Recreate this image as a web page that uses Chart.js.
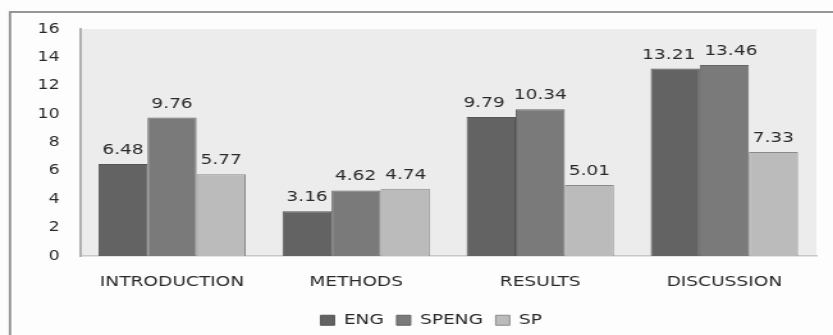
<!DOCTYPE html>
<html>
<head>
<meta charset="utf-8">
<script src="https://cdn.jsdelivr.net/npm/chart.js@4/dist/chart.umd.min.js"></script>
<style>
  html, body { margin: 0; padding: 0; background: #ffffff; overflow: hidden; }
  #wrap { width: 833px; height: 335px; overflow: hidden; }
  /* the chart is laid out on a narrower canvas and widened to the page */
  #c { display: block; transform: scaleX(1.2796); transform-origin: 0 0; }
</style>
</head>
<body>
<div id="wrap"><canvas id="c" width="651" height="335" style="width:651px;height:335px"></canvas></div>
<script>
const categories = ['INTRODUCTION', 'METHODS', 'RESULTS', 'DISCUSSION'];
const seriesNames = ['ENG', 'SPENG', 'SP'];
const engValues = [6.48, 3.16, 9.79, 13.21];
const spengValues = [9.76, 4.62, 10.34, 13.46];
const spValues = [5.77, 4.74, 5.01, 7.33];
const yTickValues = [0, 2, 4, 6, 8, 10, 12, 14, 16];

const FONT = 'DejaVu Sans';
const TEXT = '#2a2a2a';
const LEGEND_SHIFT = 18;

// white page, framed box and grey plotting area
const backdrop = {
  id: 'backdrop',
  afterLayout(chart) {
    // centre the legend under the plotting area rather than the whole canvas
    if (chart.legend) {
      chart.legend.left += LEGEND_SHIFT;
      chart.legend.right += LEGEND_SHIFT;
    }
  },
  beforeDraw(chart) {
    const { ctx, chartArea: a, width, height } = chart;
    ctx.save();
    ctx.fillStyle = '#fdfdfd';
    ctx.fillRect(0, 0, width, height);
    ctx.strokeStyle = '#8c8c8c';
    ctx.lineWidth = 1.8;
    ctx.strokeRect(7.8, 12, width + 20, height + 20);
    ctx.fillStyle = '#ececec';
    ctx.fillRect(a.left, a.top, a.right - a.left, a.bottom - a.top);
    ctx.restore();
  }
};

// value written above each bar; neighbouring labels that would collide are pushed apart
const valueLabels = {
  id: 'valueLabels',
  afterDatasetsDraw(chart) {
    const { ctx } = chart;
    const gap = 7, lift = 10, textH = 14;
    ctx.save();
    ctx.font = '14.5px "' + FONT + '"';
    ctx.fillStyle = TEXT;
    ctx.textAlign = 'center';
    ctx.textBaseline = 'alphabetic';
    const nSeries = chart.data.datasets.length;
    chart.data.labels.forEach((_, j) => {
      const items = [];
      for (let i = 0; i < nSeries; i++) {
        const bar = chart.getDatasetMeta(i).data[j];
        const text = chart.data.datasets[i].data[j].toFixed(2);
        items.push({ text, x: bar.x, y: bar.y - lift, w: ctx.measureText(text).width });
      }
      for (let k = 1; k < items.length; k++) {
        const a = items[k - 1], b = items[k];
        if (Math.abs(a.y - b.y) >= textH) continue;
        const need = (a.w + b.w) / 2 + gap - (b.x - a.x);
        if (need <= 0) continue;
        if (Math.abs(a.y - b.y) < textH / 2) { a.x -= need / 2; b.x += need / 2; }
        else if (a.y > b.y) { a.x -= need; }
        else { b.x += need; }
      }
      items.forEach(it => ctx.fillText(it.text, it.x, it.y));
    });
    ctx.restore();
  }
};

new Chart(document.getElementById('c'), {
  type: 'bar',
  data: {
    labels: categories,
    datasets: [
      { label: seriesNames[0], data: engValues, backgroundColor: '#636363', borderColor: '#555555', borderWidth: 1 },
      { label: seriesNames[1], data: spengValues, backgroundColor: '#7a7a7a', borderColor: '#666666', borderWidth: 1 },
      { label: seriesNames[2], data: spValues, backgroundColor: '#bbbbbb', borderColor: '#8a8a8a', borderWidth: 1 }
    ]
  },
  options: {
    responsive: false,
    animation: false,
    devicePixelRatio: 1,
    datasets: { bar: { categoryPercentage: 0.8, barPercentage: 1.0 } },
    layout: { padding: { top: 29, right: 13, left: 0, bottom: 0 } },
    scales: {
      x: {
        grid: { display: false, drawTicks: false },
        border: { color: '#c8c8c8', width: 1.5 },
        ticks: { color: TEXT, font: { family: FONT, size: 14.5 }, padding: 17.5, maxRotation: 0 },
        afterFit(scale) { scale.height = 47; }
      },
      y: {
        min: yTickValues[0],
        max: yTickValues[yTickValues.length - 1],
        grid: { display: false, drawTicks: false },
        border: { color: '#b0b0b0', width: 2 },
        ticks: { stepSize: yTickValues[1] - yTickValues[0], color: TEXT, font: { family: FONT, size: 13.5 }, padding: 16 },
        afterFit(scale) { scale.width = 62.5; }
      }
    },
    plugins: {
      legend: {
        position: 'bottom',
        maxHeight: 32,
        labels: { boxWidth: 11, boxHeight: 10, padding: 10, color: TEXT, font: { family: FONT, size: 14.5 } }
      },
      tooltip: { enabled: false }
    }
  },
  plugins: [backdrop, valueLabels]
});
</script>
</body>
</html>
